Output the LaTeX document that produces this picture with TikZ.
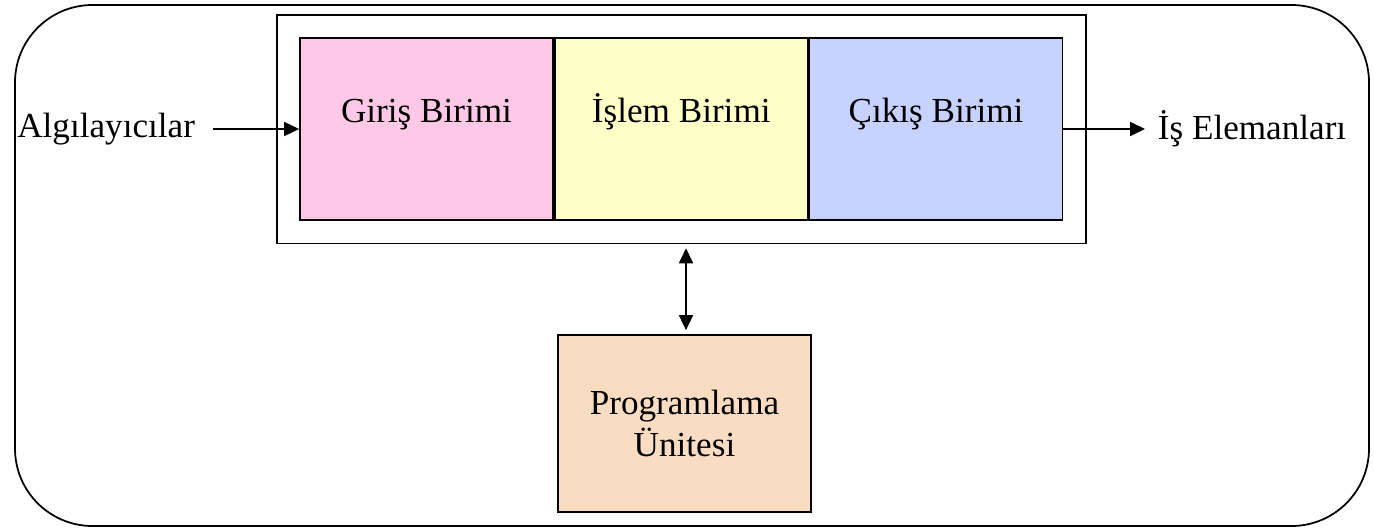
\documentclass[tikz,border=0pt]{standalone}
\usepackage{fontspec}
\setmainfont{Liberation Serif}
\usepackage{xcolor}
\usepackage{tikz}
\usetikzlibrary{arrows.meta,positioning,fit,calc}

\definecolor{girispink}{HTML}{FFC8E6}
\definecolor{islemyellow}{HTML}{FFFFC8}
\definecolor{cikisblue}{HTML}{C8D2FF}
\definecolor{progpeach}{HTML}{FADCC3}

\begin{document}
\begin{tikzpicture}[
    font=\fontsize{20}{24}\selectfont,
    >={Triangle[length=0.3cm,width=0.28cm]},
    unit/.style={draw, line width=1pt, minimum width=5.06cm, minimum height=3.64cm,
        text height=0.5cm, text depth=0.75cm, inner sep=0pt},
    progbox/.style={draw, line width=1pt, fill=progpeach, minimum width=5.06cm,
        minimum height=3.54cm, align=center},
    link/.style={->, line width=1pt}
]
    \useasboundingbox (0,0) rectangle (27.48,-10.58);

    % Outer frame
    \draw[line width=1pt, rounded corners=1.55cm] (0.30,-0.10) rectangle (27.38,-10.52);

    % Units
    \node[unit, fill=girispink] (giris) at (8.53,-2.58) {Giriş Birimi};
    \node[unit, fill=islemyellow, right=0pt of giris] (islem) {İşlem Birimi};
    \node[unit, fill=cikisblue, right=0pt of islem] (cikis) {Çıkış Birimi};
    \node[draw, line width=1pt, fit=(giris)(cikis), inner sep=0.45cm] (frame) {};

    % Programming unit
    \node[progbox] (prog) at (13.69,-8.47) {Programlama\\Ünitesi};

    % Inputs and outputs
    \node[anchor=west, inner sep=0.25cm] (alg) at (0.09,-2.58) {Algılayıcılar};
    \node[anchor=west, inner sep=0.25cm] (ise) at (22.90,-2.58) {İş Elemanları};

    % Connectors
    \draw[link, shorten <=0.1cm] (alg.east) -- (giris.west);
    \draw[link] (cikis.east) -- (ise.west);
    \draw[link, <->, shorten <=0.08cm, shorten >=0.08cm]
        ($(prog.north |- frame.south)+(0.03,0)$) -- ($(prog.north)+(0.03,0)$);
\end{tikzpicture}
\end{document}
